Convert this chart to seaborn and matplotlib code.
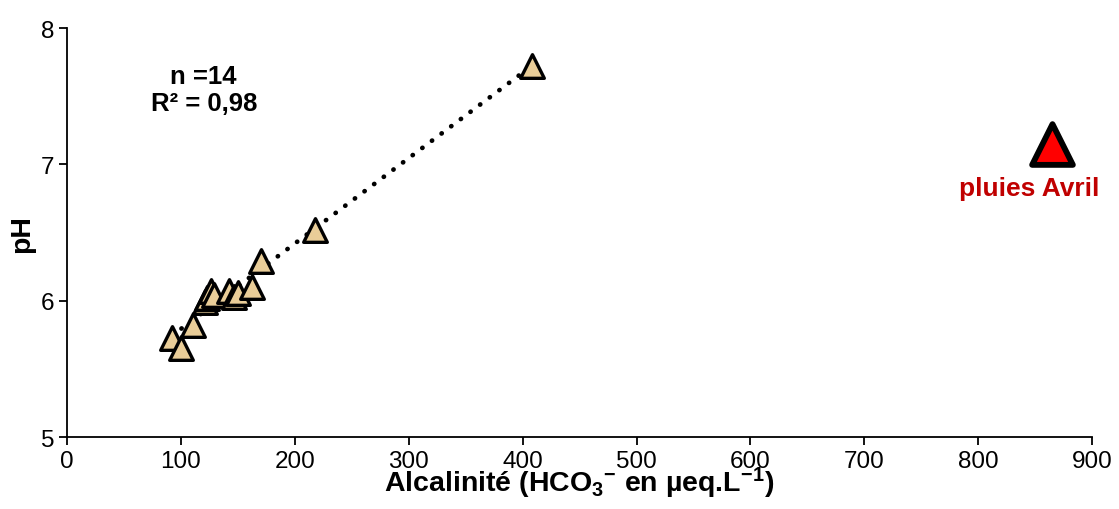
import numpy as np
import pandas as pd
import matplotlib
matplotlib.use("Agg")
import matplotlib.pyplot as plt
import seaborn as sns

# Data
alcalinite = [92, 100, 111, 121, 123, 126, 129, 142, 147, 150, 162, 170, 218, 408]
ph = [5.73, 5.65, 5.82, 5.99, 6.02, 6.07, 6.04, 6.07, 6.03, 6.06, 6.10, 6.29, 6.52, 7.72]
pluie_x = [865]
pluie_y = [7.15]
x_ticks = [0, 100, 200, 300, 400, 500, 600, 700, 800, 900]
y_ticks = [5, 6, 7, 8]

sns.set_style("ticks")
plt.rcParams['font.family'] = ['Liberation Sans', 'DejaVu Sans']
plt.rcParams['text.color'] = 'black'
plt.rcParams['axes.labelcolor'] = 'black'
plt.rcParams['xtick.color'] = 'black'
plt.rcParams['ytick.color'] = 'black'
plt.rcParams['mathtext.fontset'] = 'custom'
plt.rcParams['mathtext.rm'] = 'Liberation Sans:bold'
plt.rcParams['mathtext.it'] = 'Liberation Sans:bold'
plt.rcParams['mathtext.bf'] = 'Liberation Sans:bold'

fig = plt.figure(figsize=(11.19, 5.10), dpi=100)
ax = fig.add_axes([0.0599, 0.141, 0.9161, 0.802])

df = pd.DataFrame({"x": alcalinite, "y": ph})

# trend line (linear fit, dotted)
coef = np.polyfit(df["x"], df["y"], 1)
xs = np.array([min(alcalinite), max(alcalinite)])
ax.plot(xs, np.polyval(coef, xs), color="black", lw=3.4,
        linestyle=(0, (0.05, 2.5)), dash_capstyle="round", zorder=1)

sns.scatterplot(data=df, x="x", y="y", marker="^", s=290, color="#E9CD98",
                edgecolor="black", linewidth=2.4, ax=ax, zorder=3, clip_on=False)
sns.scatterplot(x=pluie_x, y=pluie_y, marker="^", s=860, color="#FF0000",
                edgecolor="black", linewidth=4.2, ax=ax, zorder=3, clip_on=False)

ax.set_xlim(0, 900)
ax.set_ylim(5, 8)
ax.set_xticks(x_ticks)
ax.set_yticks(y_ticks)
ax.tick_params(axis="both", labelsize=17.5, length=6, width=1.3, color="black",
               labelcolor="black", pad=3)
for s in ["top", "right"]:
    ax.spines[s].set_visible(False)
for s in ["left", "bottom"]:
    ax.spines[s].set_color("black")
    ax.spines[s].set_linewidth(1.3)

ax.set_xlabel(r"Alcalinité (HCO$_3$$^{-}$ en µeq.L$^{-1}$)", fontsize=20.5,
              fontweight="bold", labelpad=-5)
ax.set_ylabel("pH", fontsize=20.5, fontweight="bold", labelpad=4)

ax.text(120, 7.55, "n =14\nR² = 0,98", ha="center", va="center", fontsize=18.5,
        fontweight="bold", linespacing=1.2)
ax.text(845, 6.83, "pluies Avril", ha="center", va="center", fontsize=19,
        fontweight="bold", color="#C00000")

fig.savefig("out.png", dpi=100, facecolor="white")
